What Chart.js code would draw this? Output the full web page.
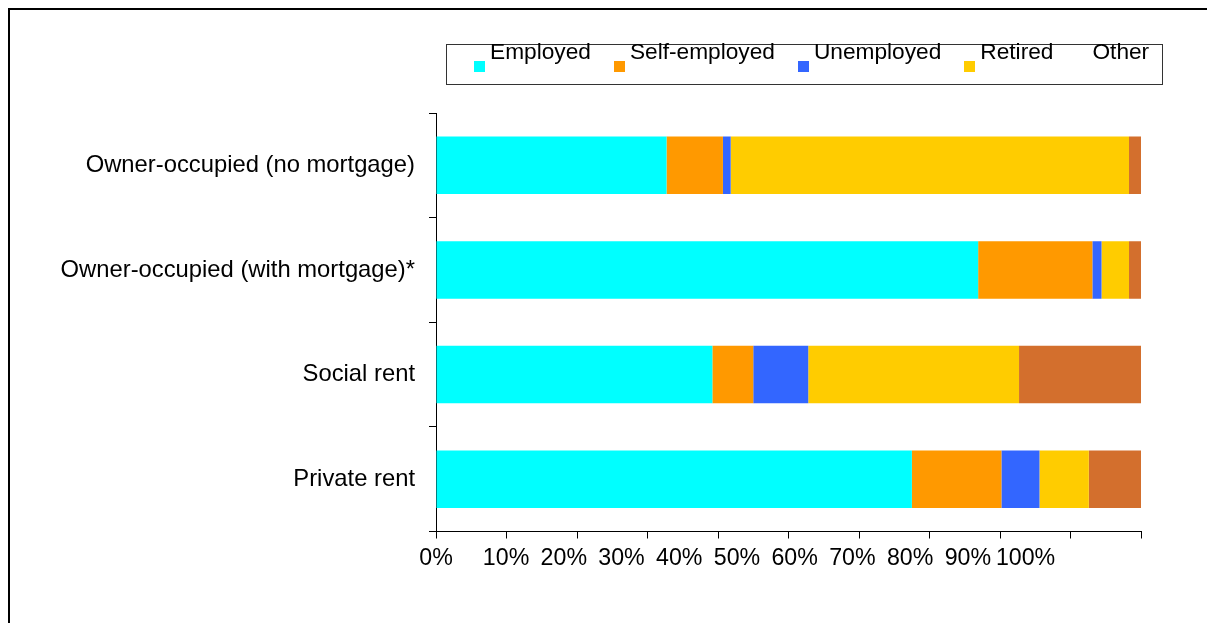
<!DOCTYPE html>
<html>
<head>
<meta charset="utf-8">
<script src="https://cdn.jsdelivr.net/npm/chart.js@4/dist/chart.umd.min.js"></script>
<style>
  html, body { margin: 0; padding: 0; background: #fff; }
  #wrap { position: relative; width: 1207px; height: 623px; overflow: hidden; font-family: 'Liberation Sans', Arial, sans-serif; }
  #frame { position: absolute; left: 8px; top: 8px; right: -4px; bottom: -4px; border-left: 2px solid #000; border-top: 2px solid #000; }
  #chart { position: absolute; left: 0; top: 0; }
  #legend {
    position: absolute; left: 446px; top: 44px; width: 717px; height: 41px;
    box-sizing: border-box; border: 1px solid #333; background: #fff;
    display: flex; align-items: flex-start; padding-left: 27px;
  }
  #legend .item { display: flex; align-items: flex-start; margin-right: 23px; }
  #legend .swatch { width: 11px; height: 11px; margin-top: 16px; }
  #legend .text { margin-left: 5px; margin-top: -5px; font-size: 22.7px; line-height: 23px; color: #000; white-space: nowrap; }
</style>
</head>
<body>
<div id="wrap">
  <div id="frame"></div>
  <canvas id="chart" width="1207" height="623"></canvas>
  <div id="legend"></div>
</div>
<script>
// tenure categories and share (%) of each economic status
const categories = [
  'Owner-occupied (no mortgage)',
  'Owner-occupied (with mortgage)*',
  'Social rent',
  'Private rent'
]
const employed = [32.7, 76.9, 39.2, 67.5]
const selfEmployed = [8.0, 16.2, 5.8, 12.7]
const unemployed = [1.1, 1.3, 7.8, 5.4]
const retired = [56.5, 3.9, 29.9, 7.0]
const other = [1.7, 1.7, 17.3, 7.4]

const seriesNames = ['Employed', 'Self-employed', 'Unemployed', 'Retired', 'Other']
const seriesColors = ['#00FFFF', '#FF9900', '#3366FF', '#FFCC00', '#D36F2D']
// the legend shows no swatch for "Other"
const legendSwatches = ['#00FFFF', '#FF9900', '#3366FF', '#FFCC00', 'transparent']

// percent labels under the axis and where each one sits on the label scale
const tickLabels = ['0%', '10%', '20%', '30%', '40%', '50%', '60%', '70%', '80%', '90%', '100%']
const labelAnchors = [-2.14, 10, 20, 30, 40, 50, 60, 70, 80, 90, 100]

const FAMILY = "'Liberation Sans', Arial, sans-serif"

function Graph() {
  const values = [employed, selfEmployed, unemployed, retired, other]
  const ctx = document.getElementById('chart').getContext('2d')

  const chart = new Chart(ctx, {
    type: 'bar',
    data: {
      labels: categories,
      datasets: seriesNames.map((name, i) => ({
        label: name,
        data: values[i],
        backgroundColor: seriesColors[i],
        borderWidth: 0,
        categoryPercentage: 1,
        barPercentage: 0.55
      }))
    },
    options: {
      indexAxis: 'y',
      responsive: false,
      animation: false,
      layout: { padding: { top: 113, right: 66, bottom: 0, left: 0 } },
      plugins: {
        legend: { display: false },
        tooltip: { enabled: false }
      },
      scales: {
        x: {
          stacked: true,
          min: 0,
          max: 100,
          position: 'bottom',
          ticks: { stepSize: 10, display: false },
          grid: { drawOnChartArea: false, drawTicks: true, tickLength: 7, color: '#000' },
          border: { display: true, color: '#000', width: 1 },
          afterFit: (scale) => { scale.height = 0 }
        },
        x2: {
          type: 'linear',
          position: 'bottom',
          min: labelAnchors[0],
          max: 120,
          afterBuildTicks: (scale) => {
            scale.ticks = labelAnchors.map(v => ({ value: v }))
          },
          ticks: {
            autoSkip: false,
            maxRotation: 0,
            padding: 13,
            color: '#000',
            font: { family: FAMILY, size: 23.2 },
            callback: (v, i) => tickLabels[i]
          },
          grid: { display: false, drawTicks: false },
          border: { display: false },
          afterFit: (scale) => { scale.height = 91.5 }
        },
        y: {
          stacked: true,
          ticks: { color: '#000', font: { family: FAMILY, size: 23.8 }, padding: 14 },
          grid: { offset: true, drawOnChartArea: false, drawTicks: true, tickLength: 7, color: '#000' },
          border: { display: true, color: '#000', width: 1 },
          afterFit: (scale) => { scale.width = 436 }
        }
      }
    }
  })

  // html legend built from the chart's own datasets
  const legend = document.getElementById('legend')
  chart.data.datasets.forEach((ds, i) => {
    const item = document.createElement('div')
    item.className = 'item'
    const sw = document.createElement('div')
    sw.className = 'swatch'
    sw.style.background = legendSwatches[i]
    const txt = document.createElement('div')
    txt.className = 'text'
    txt.textContent = ds.label
    item.appendChild(sw)
    item.appendChild(txt)
    legend.appendChild(item)
  })

  return chart
}

Graph()
</script>
</body>
</html>
